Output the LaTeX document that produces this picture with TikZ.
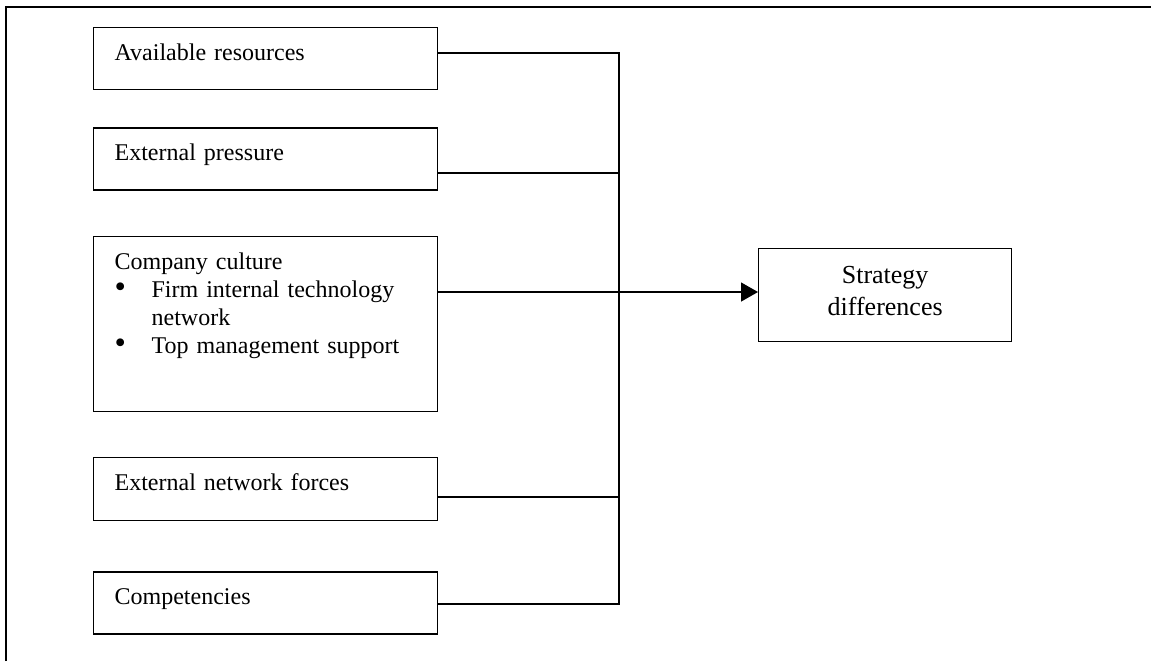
\documentclass[tikz,border=0pt]{standalone}
\usepackage{fontspec}
\setmainfont{Liberation Serif}
\usetikzlibrary{positioning, arrows.meta}

\begin{document}
\begin{tikzpicture}[x=0.5pt, y=-0.5pt, node distance=22.5pt]
  \tikzstyle{box}=[draw, line width=0.65pt, text width=151pt, inner xsep=10.5pt, inner ysep=0pt, align=left, text height=16.5pt, text depth=14.5pt, font=\fontsize{12}{14}\selectfont]
  \tikzstyle{goal}=[draw, line width=0.65pt, text width=126.5pt, inner sep=0pt, align=center, text height=17.5pt, text depth=29pt, font=\fontsize{13}{16}\selectfont]
  \tikzstyle{wire}=[line width=0.65pt]
  \useasboundingbox (0,0) rectangle (1151,661);
  \draw[line width=1pt] (6,661) -- (6,7) -- (1151,7);

  \node[box, anchor=north west] (resources) at (93,27) {Available resources};
  \node[box, below=18.5pt of resources] (pressure) {External pressure};
  \node[box, below=of pressure, text depth=71pt] (culture) {Company culture\\
    \makebox[18.5pt][l]{\scalebox{1.35}{\textbullet}}Firm internal technology\\
    \hspace*{18.5pt}network\\
    \makebox[18.5pt][l]{\scalebox{1.35}{\textbullet}}Top management support};
  \node[box, below=of culture, text depth=15pt] (netforces) {External network forces};
  \node[box, below=25pt of netforces] (competencies) {Competencies};
  \node[goal, anchor=north west] (strategy) at (758,248) {Strategy\\differences};

  \coordinate (j1) at (619,53);
  \coordinate (j2) at (619,173);
  \coordinate (j3) at (619,292);
  \coordinate (j4) at (619,497);
  \coordinate (j5) at (619,604);

  \draw[wire] (resources.east |- j1) -- (j1) -- (j5) -- (competencies.east |- j5);
  \draw[wire] (pressure.east |- j2) -- (j2);
  \draw[wire] (netforces.east |- j4) -- (j4);
  \draw[wire, -{Triangle[length=8.5pt, width=9.5pt]}] (culture.east |- j3) -- (strategy.west |- j3);
\end{tikzpicture}
\end{document}
